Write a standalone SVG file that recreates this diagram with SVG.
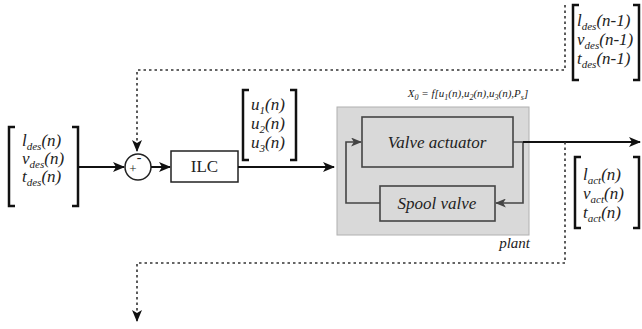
<svg xmlns="http://www.w3.org/2000/svg" width="642" height="329" viewBox="0 0 642 329">
<style>
.t{font-style:italic;fill:#222}
.v{font-size:17px}
.s{font-size:11px}
.br{fill:none;stroke:#111;stroke-width:2.5}
.ln{fill:none;stroke:#111;stroke-width:2}
.dot{fill:none;stroke:#333;stroke-width:1.6;stroke-dasharray:2.5 3}
.in{fill:none;stroke:#444;stroke-width:1.6}
.box{fill:#fff;stroke:#222;stroke-width:1.5}
</style>
<defs>
<marker id="ah" viewBox="0 0 12 10" refX="11" refY="5" markerWidth="12" markerHeight="10" markerUnits="userSpaceOnUse" orient="auto">
<path d="M0,0 L12,5 L0,10 L3,5 z" fill="#111"/>
</marker>
<marker id="ahg" viewBox="0 0 12 10" refX="11" refY="5" markerWidth="11" markerHeight="9" markerUnits="userSpaceOnUse" orient="auto">
<path d="M0,0 L12,5 L0,10 L3,5 z" fill="#444"/>
</marker>
</defs>

<g font-family="'Liberation Serif', serif">
<g id="plant">
<rect x="337" y="107" width="192" height="128" fill="#d9d9d9" stroke="#b0b0b0" stroke-width="1"/>
<text class="t" x="530" y="248" font-size="15" text-anchor="end">plant</text>
<text class="t" x="468" y="97" font-size="11" text-anchor="middle">X<tspan font-size="8" dy="3">0</tspan><tspan dy="-3"> = f[u</tspan><tspan font-size="8" dy="3">1</tspan><tspan dy="-3">(n),u</tspan><tspan font-size="8" dy="3">2</tspan><tspan dy="-3">(n),u</tspan><tspan font-size="8" dy="3">3</tspan><tspan dy="-3">(n),P</tspan><tspan font-size="8" dy="3">s</tspan><tspan dy="-3">]</tspan></text>
</g>

<g id="valve-actuator">
<rect x="362" y="117" width="151" height="50" fill="none" stroke="#444" stroke-width="1.6"/>
<text class="t" x="437" y="148" font-size="17" text-anchor="middle" fill="#333">Valve actuator</text>
</g>

<g id="spool-valve">
<rect x="380" y="186" width="115" height="35" fill="none" stroke="#444" stroke-width="1.6"/>
<text class="t" x="437" y="209" font-size="17" text-anchor="middle" fill="#333">Spool valve</text>
</g>

<g id="ilc">
<rect x="171" y="151" width="67" height="31" class="box"/>
<text x="204.5" y="172" font-size="17" text-anchor="middle" fill="#222">ILC</text>
</g>

<g id="sum">
<circle cx="138" cy="167" r="13" fill="#fff" stroke="#222" stroke-width="1.5"/>
<text x="133" y="173" font-size="13" text-anchor="middle" fill="#222">+</text>
<text x="139" y="162" font-size="14" text-anchor="middle" fill="#222">-</text>
</g>

<g id="vec-des">
<path class="br" d="M15,127 H9 V206 H15 M72,127 H78 V206 H72"/>
<text class="t v" x="22" y="146">l<tspan class="s" dy="4">des</tspan><tspan dy="-4">(n)</tspan></text>
<text class="t v" x="22" y="164">v<tspan class="s" dy="4">des</tspan><tspan dy="-4">(n)</tspan></text>
<text class="t v" x="22" y="182">t<tspan class="s" dy="4">des</tspan><tspan dy="-4">(n)</tspan></text>
</g>

<g id="vec-u">
<path class="br" d="M249,90 H243 V160 H249 M290,90 H296 V160 H290"/>
<text class="t v" x="251" y="110">u<tspan class="s" dy="4">1</tspan><tspan dy="-4">(n)</tspan></text>
<text class="t v" x="251" y="129">u<tspan class="s" dy="4">2</tspan><tspan dy="-4">(n)</tspan></text>
<text class="t v" x="251" y="148">u<tspan class="s" dy="4">3</tspan><tspan dy="-4">(n)</tspan></text>
</g>

<g id="vec-prev">
<path class="br" d="M579,5 H573 V80 H579 M633,5 H639 V80 H633"/>
<text class="t v" x="577" y="26">l<tspan class="s" dy="4">des</tspan><tspan dy="-4">(n-1)</tspan></text>
<text class="t v" x="577" y="45">v<tspan class="s" dy="4">des</tspan><tspan dy="-4">(n-1)</tspan></text>
<text class="t v" x="577" y="64">t<tspan class="s" dy="4">des</tspan><tspan dy="-4">(n-1)</tspan></text>
</g>

<g id="vec-act">
<path class="br" d="M581,157 H575 V228 H581 M633,157 H639 V228 H633"/>
<text class="t v" x="583" y="180">l<tspan class="s" dy="4">act</tspan><tspan dy="-4">(n)</tspan></text>
<text class="t v" x="583" y="199">v<tspan class="s" dy="4">act</tspan><tspan dy="-4">(n)</tspan></text>
<text class="t v" x="583" y="218">t<tspan class="s" dy="4">act</tspan><tspan dy="-4">(n)</tspan></text>
</g>
</g>

<g id="connectors">
<path class="ln" d="M78,167 H124" marker-end="url(#ah)"/>
<path class="ln" d="M151,167 H170" marker-end="url(#ah)"/>
<path class="ln" d="M238,167 H334" marker-end="url(#ah)"/>
<path class="in" d="M513,142 H523 V203 H496" marker-end="url(#ahg)"/>
<path class="in" d="M380,203 H346 V142 H361" marker-end="url(#ahg)"/>
<path class="ln" d="M523,142 H640" marker-end="url(#ah)"/>
<path class="dot" d="M565,5 V70 H137 V151" marker-end="url(#ah)"/>
<path class="dot" d="M565,142 V263 H137 V321" marker-end="url(#ah)"/>
</g>
</svg>
